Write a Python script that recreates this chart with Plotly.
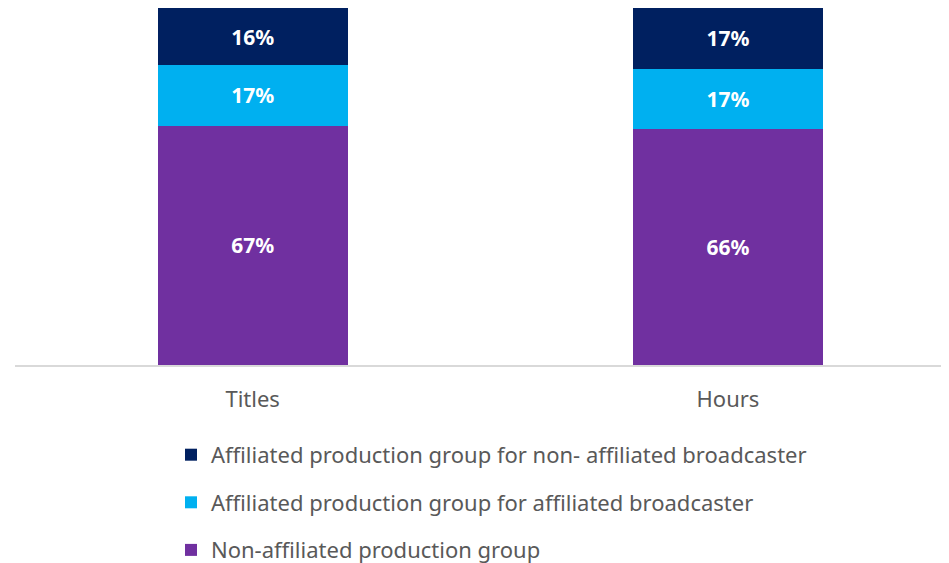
import plotly.graph_objects as go

categories = ['Titles', 'Hours']
non_affiliated = [67, 66]
affiliated_for_affiliated = [17, 17]
affiliated_for_non_affiliated = [16, 17]

# name, values, colour, legend position (top to bottom)
series = [
    ('Non-affiliated production group', non_affiliated, '#7030A0', 3),
    ('Affiliated production group for affiliated broadcaster', affiliated_for_affiliated, '#00B0F0', 2),
    ('Affiliated production group for non- affiliated broadcaster', affiliated_for_non_affiliated, '#002060', 1),
]

fig = go.Figure()
for i, (name, vals, color, rank) in enumerate(series):
    fig.add_trace(go.Bar(
        x=categories,
        y=vals,
        name=name,
        legendgroup=str(i),
        legendrank=rank,
        marker=dict(color=color, line=dict(width=0)),
        width=0.4,
        text=[f'{v}%' for v in vals],
        textposition='inside',
        insidetextanchor='middle',
        textfont=dict(color='white', size=21, family='Noto Sans'),
        texttemplate='<b>%{text}</b>',
    ))

# page body has an 8px margin, so the figure is a bit smaller than the window
fig.update_layout(
    barmode='stack',
    width=941,
    height=555,
    margin=dict(t=0, b=198, l=7, r=0, autoexpand=False),
    plot_bgcolor='white',
    paper_bgcolor='white',
    font=dict(family='Noto Sans', color='#595959', size=22),
    legend=dict(
        x=0.167, y=-0.193, xanchor='left', yanchor='top',
        traceorder='grouped',
        tracegroupgap=16,
        font=dict(size=22, color='#595959'),
        itemwidth=30,
        maxheight=1,
    ),
)

fig.update_xaxes(
    range=[-0.5, 1.465],
    showline=True, linecolor='#D9D9D9', linewidth=2,
    showgrid=False, ticks='', ticklabelstandoff=14,
)
fig.update_yaxes(range=[0, 100], visible=False, showgrid=False)

fig.write_html('out.html')
